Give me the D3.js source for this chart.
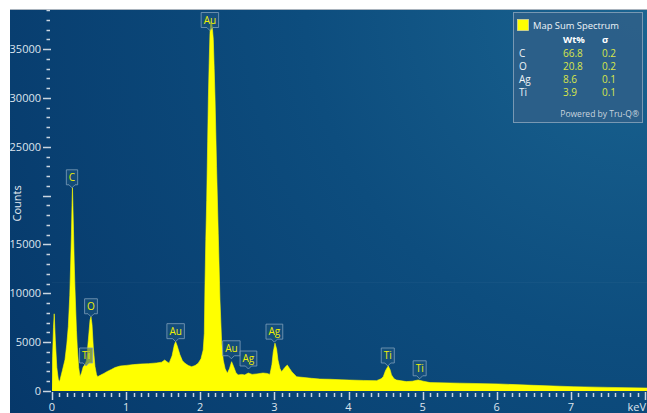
<!DOCTYPE html>
<html>
<head>
<meta charset="utf-8">
<script src="https://cdn.jsdelivr.net/npm/d3@7"></script>
<style>
  html, body { margin: 0; padding: 0; background: #ffffff; }
  svg { display: block; font-family: "Open Sans", "Noto Sans", sans-serif; }
</style>
</head>
<body>
<svg id="chart" width="647" height="413"></svg>
<script>
// Spectrum: energy (keV) and counts
const energy = [
  0.000, 0.008, 0.020, 0.030, 0.045, 0.065, 0.085, 0.100, 0.108, 0.140,
  0.175, 0.200, 0.220, 0.240, 0.252, 0.262, 0.270, 0.276, 0.282, 0.290,
  0.300, 0.310, 0.320, 0.330, 0.341, 0.360, 0.378, 0.400, 0.420, 0.445,
  0.465, 0.490, 0.513, 0.526, 0.540, 0.557, 0.580, 0.600, 0.615, 0.650,
  0.700, 0.740, 0.800, 0.850, 0.920, 1.000, 1.100, 1.190, 1.300, 1.410,
  1.480, 1.520, 1.550, 1.580, 1.620, 1.650, 1.668, 1.690, 1.726, 1.760,
  1.794, 1.840, 1.884, 1.930, 1.973, 2.010, 2.040, 2.055, 2.064, 2.075,
  2.087, 2.100, 2.109, 2.120, 2.131, 2.142, 2.155, 2.165, 2.176, 2.188,
  2.200, 2.220, 2.243, 2.266, 2.289, 2.310, 2.335, 2.365, 2.395, 2.423,
  2.450, 2.480, 2.510, 2.560, 2.600, 2.648, 2.700, 2.765, 2.846, 2.900,
  2.940, 2.967, 2.985, 3.008, 3.030, 3.048, 3.075, 3.098, 3.140, 3.174,
  3.205, 3.237, 3.300, 3.400, 3.500, 3.615, 3.750, 3.900, 4.010, 4.200,
  4.379, 4.440, 4.469, 4.500, 4.536, 4.560, 4.580, 4.615, 4.648, 4.780,
  4.860, 4.940, 5.010, 5.100, 5.500, 6.020, 6.500, 7.030, 7.500, 8.000,
  8.030
];
const counts = [
  0, 3500, 6500, 7900, 5200, 2400, 1200, 950, 1130, 2100,
  3200, 4800, 6600, 9800, 13100, 16000, 19000, 20800, 19000, 16500,
  13100, 10500, 8300, 6200, 4500, 2400, 1460, 1900, 2450, 2700,
  3100, 5200, 7250, 7600, 6800, 4500, 2500, 1700, 1460, 1600,
  1800, 1980, 2200, 2400, 2560, 2620, 2700, 2760, 2800, 2870,
  2950, 3170, 3000, 2850, 3600, 4700, 5050, 4600, 3700, 3100,
  2830, 2600, 2490, 2600, 2850, 3300, 4200, 5900, 11000, 15500,
  19500, 25500, 29800, 33500, 36600, 37800, 37700, 37000, 36000, 33000,
  29800, 23000, 16100, 9300, 4900, 3170, 2300, 1810, 2300, 3000,
  2500, 1900, 1640, 1700, 1650, 1840, 1700, 1750, 1840, 1800,
  1700, 2700, 4000, 4900, 4300, 3200, 2300, 1980, 2400, 2650,
  2300, 1950, 1460, 1380, 1300, 1220, 1200, 1150, 1120, 1080,
  1060, 1250, 1460, 2100, 2560, 2200, 1650, 1250, 1120, 960,
  1000, 1130, 1000, 860, 800, 720, 580, 440, 370, 307,
  300
];

// Peak identification markers
const peakEls    = ["C", "Ti", "O", "Au", "Au", "Au", "Ag", "Ag", "Ti", "Ti"];
const peakKeV    = [0.27, 0.46, 0.526, 1.668, 2.13, 2.42, 2.65, 3.0, 4.53, 4.96];
const peakCounts = [20800, 2560, 7600, 5050, 36900, 3300, 2250, 5000, 2560, 1250];

// Axis ticks
const yMajorTicks = [0, 5000, 10000, 15000, 20000, 25000, 30000, 35000];
const yTickLabels = ["0", "5000", "10000", "15000", "", "25000", "30000", "35000"];
const xMajorTicks = [0, 1, 2, 3, 4, 5, 6, 7, 8];
const xTickLabels = ["0", "1", "2", "3", "4", "5", "6", "7", "keV"];

// Quantification legend
const legendTitle = "Map Sum Spectrum";
const legendEls   = ["C", "O", "Ag", "Ti"];
const legendWt    = ["66.8", "20.8", "8.6", "3.9"];
const legendSigma = ["0.2", "0.2", "0.1", "0.1"];

const svg = d3.select("#chart");
const W = 647, H = 413;
const panel = { x: 10, y: 10, w: W - 10, h: H - 10 };

const x = d3.scaleLinear().domain([0, 8]).range([52, 645]);
const y = d3.scaleLinear().domain([0, 39000]).range([391, 10]);

// Background gradient
const defs = svg.append("defs");
const grad = defs.append("radialGradient")
  .attr("id", "bg").attr("gradientUnits", "userSpaceOnUse")
  .attr("cx", 647).attr("cy", 0).attr("r", 760);
grad.append("stop").attr("offset", 0).attr("stop-color", "#1a6491");
grad.append("stop").attr("offset", 0.45).attr("stop-color", "#0d4d7e");
grad.append("stop").attr("offset", 1).attr("stop-color", "#06386a");

defs.append("clipPath").attr("id", "clip")
  .append("rect").attr("x", 52).attr("y", panel.y).attr("width", W - 52).attr("height", 391 - panel.y);

svg.append("rect")
  .attr("x", panel.x).attr("y", panel.y).attr("width", panel.w).attr("height", panel.h)
  .attr("fill", "url(#bg)");
svg.append("line")
  .attr("x1", panel.x).attr("x2", W).attr("y1", panel.y - 0.5).attr("y2", panel.y - 0.5)
  .attr("stroke", "#a9b3bd").attr("stroke-width", 1);

// faint band line across the plot
svg.append("line")
  .attr("x1", 52).attr("x2", W).attr("y1", 282.5).attr("y2", 282.5)
  .attr("stroke", "#ffffff").attr("stroke-opacity", 0.03);

// Spectrum
const spectrum = energy.map((e, i) => ({ e, c: counts[i] }));
const area = d3.area()
  .x(d => x(d.e))
  .y0(y(0))
  .y1(d => y(d.c));
svg.append("path")
  .datum(spectrum)
  .attr("clip-path", "url(#clip)")
  .attr("fill", "#ffff00")
  .attr("stroke", "#ffff00")
  .attr("stroke-width", 0.6)
  .attr("d", area);

// Y axis ticks
const tickColor = "#c9d5e1";
const yMinor = d3.range(0, 39001, 1000).filter(v => v % 5000 !== 0);
svg.append("g").selectAll("line").data(yMinor).join("line")
  .attr("x1", 46.5).attr("x2", 50)
  .attr("y1", d => Math.round(y(d)) + 0.5).attr("y2", d => Math.round(y(d)) + 0.5)
  .attr("stroke", tickColor).attr("stroke-width", 1.5);
svg.append("g").selectAll("line").data(yMajorTicks).join("line")
  .attr("x1", 43).attr("x2", 51)
  .attr("y1", d => Math.round(y(d)) + 0.5).attr("y2", d => Math.round(y(d)) + 0.5)
  .attr("stroke", tickColor).attr("stroke-width", 1.5);
svg.append("g").selectAll("text").data(yMajorTicks).join("text")
  .attr("x", 41).attr("y", d => y(d))
  .attr("dy", "0.35em")
  .attr("text-anchor", "end")
  .attr("fill", "#dde5ee")
  .attr("font-size", 11)
  .text((d, i) => yTickLabels[i]);

svg.append("text")
  .attr("transform", `translate(21,${y(19200)}) rotate(-90)`)
  .attr("text-anchor", "middle")
  .attr("fill", "#e6ecf2")
  .attr("font-size", 11)
  .text("Counts");

// X axis ticks
const xMinor = d3.range(0, 80.5, 1).map(v => v / 10).filter(v => Math.abs(v - Math.round(v)) > 1e-6);
svg.append("g").selectAll("line").data(xMinor).join("line")
  .attr("x1", d => Math.round(x(d)) + 0.5).attr("x2", d => Math.round(x(d)) + 0.5)
  .attr("y1", 393).attr("y2", 397)
  .attr("stroke", tickColor).attr("stroke-width", 1.5);
svg.append("g").selectAll("line").data(xMajorTicks).join("line")
  .attr("x1", d => Math.round(x(d)) + 0.5).attr("x2", d => Math.round(x(d)) + 0.5)
  .attr("y1", 392).attr("y2", 400)
  .attr("stroke", tickColor).attr("stroke-width", 1.5);
svg.append("g").selectAll("text").data(xMajorTicks).join("text")
  .attr("x", d => d === 8 ? x(d) + 1 : x(d))
  .attr("y", 411)
  .attr("text-anchor", d => d === 8 ? "end" : "middle")
  .attr("fill", "#dde5ee")
  .attr("font-size", 11)
  .text((d, i) => xTickLabels[i]);

// Peak markers
const markers = svg.append("g");
peakEls.forEach((el, i) => {
  const cx = x(peakKeV[i]);
  const tip = y(peakCounts[i]);
  const g = markers.append("g");
  const t = g.append("text")
    .attr("x", cx).attr("y", tip - 7)
    .attr("text-anchor", "middle")
    .attr("fill", "#f0f000")
    .attr("font-size", 10)
    .text(el);
  const w = t.node().getComputedTextLength() + 5;
  const bh = 15, bottom = tip - 3;
  g.insert("path", "text")
    .attr("d", `M${cx - w / 2},${bottom - bh} h${w} v${bh} h${-(w / 2 - 3)} l-3,3 l-3,-3 h${-(w / 2 - 3)} Z`)
    .attr("fill", "#1d557f").attr("fill-opacity", 0.55)
    .attr("stroke", "#7f9fba").attr("stroke-opacity", 0.8).attr("stroke-width", 1);
});

// Legend
const lg = svg.append("g").attr("transform", "translate(513,12)");
lg.append("rect").attr("x", 0.5).attr("y", 0.5).attr("width", 129).attr("height", 110)
  .attr("fill", "#2e6089").attr("fill-opacity", 0.92)
  .attr("stroke", "#7898b3").attr("stroke-width", 1);
lg.append("rect").attr("x", 4.5).attr("y", 7.5).attr("width", 11).attr("height", 11)
  .attr("fill", "#ffff00").attr("stroke", "#d8d8a0").attr("stroke-width", 0.8);
lg.append("text").attr("x", 20).attr("y", 17).attr("fill", "#eef3f7").attr("font-size", 9.4)
  .text(legendTitle);
lg.append("text").attr("x", 50).attr("y", 31).attr("fill", "#ffffff").attr("font-size", 9.5)
  .attr("font-weight", "bold").text("Wt%");
lg.append("text").attr("x", 89).attr("y", 31).attr("fill", "#ffffff").attr("font-size", 9.5)
  .attr("font-weight", "bold").text("σ");
legendEls.forEach((el, i) => {
  const ry = 45 + i * 13;
  lg.append("text").attr("x", 6).attr("y", ry).attr("fill", "#eef3f7").attr("font-size", 10).text(el);
  lg.append("text").attr("x", 50).attr("y", ry).attr("fill", "#d9e64a").attr("font-size", 10).text(legendWt[i]);
  lg.append("text").attr("x", 89).attr("y", ry).attr("fill", "#d9e64a").attr("font-size", 10).text(legendSigma[i]);
});
lg.append("text").attr("x", 126).attr("y", 105).attr("text-anchor", "end")
  .attr("fill", "#c9d4de").attr("font-size", 8.5).text("Powered by Tru-Q®");
</script>
</body>
</html>
